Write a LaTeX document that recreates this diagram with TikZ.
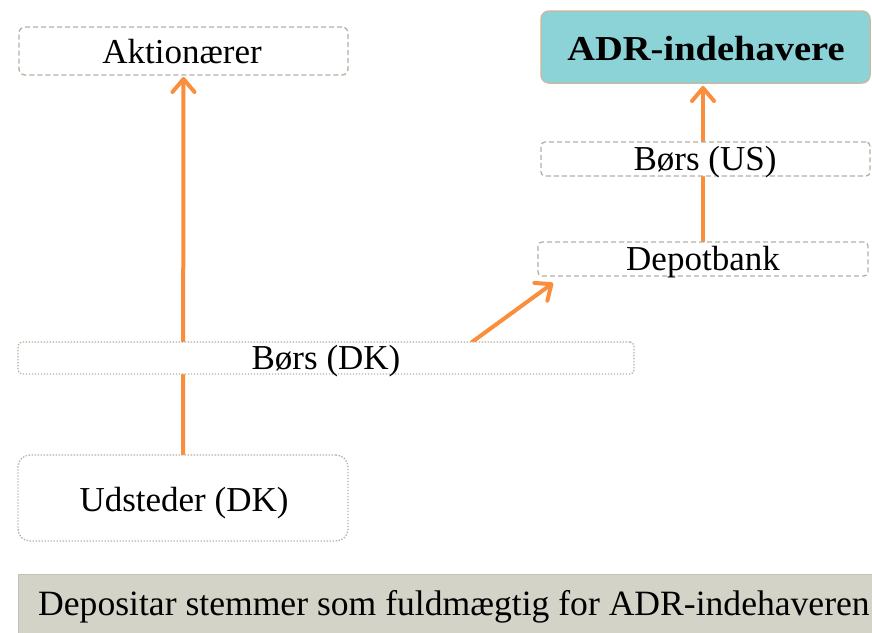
\documentclass[tikz,border=0pt]{standalone}
\usepackage{fontspec}
\setmainfont{Liberation Serif}
\usetikzlibrary{arrows.meta}
\definecolor{boxline}{HTML}{B3B1A2}
\definecolor{adrfill}{HTML}{8CD3D8}
\definecolor{adrline}{HTML}{C2BCA5}
\definecolor{flow}{HTML}{FB8E3C}
\definecolor{notefill}{HTML}{D3D3C7}
\definecolor{noteline}{HTML}{C2C1B2}
\begin{document}
\begin{tikzpicture}[x=1pt,y=-1pt,
  box/.style={draw=boxline, line width=1.3pt, fill=white, inner sep=0pt,
    outer sep=0pt, anchor=north west},
  dashbox/.style={box, dash pattern=on 5pt off 3pt},
  dotbox/.style={box, dash pattern=on 1.4pt off 1.6pt},
  lbl/.style={font=\fontsize{35}{40}\selectfont, inner sep=0pt, anchor=base},
  flowarrow/.style={draw=flow, line width=4pt, line cap=round,
    -{Straight Barb[round,length=13pt,width=22pt]}}]
\useasboundingbox (0,0) rectangle (872,632);

% placeholders so the arrows can be drawn first and hidden by the boxes
\path (18,455) node[anchor=north west, minimum width=330, minimum height=86,
  inner sep=0pt, outer sep=0pt] (udst) {};
\path (19,27) node[anchor=north west, minimum width=329, minimum height=48,
  inner sep=0pt, outer sep=0pt] (akt) {};
\path (538,242) node[anchor=north west, minimum width=330, minimum height=34,
  inner sep=0pt, outer sep=0pt] (dep) {};
\path (541,11) node[anchor=north west, minimum width=329, minimum height=72,
  inner sep=0pt, outer sep=0pt] (adr) {};
\coordinate (dkout) at (472,342);
\coordinate (depin) at (553,283);

% flows
\draw[flowarrow] (udst.north) -- ([yshift=-2pt]akt.south);
\draw[flowarrow] (dep.north) -- ([yshift=-3pt]dep.north |- adr.south);
\draw[flowarrow] (dkout) -- (depin);

% boxes
\node[dashbox, rounded corners=6pt, minimum width=329, minimum height=48]
  (aktbox) at (19,27) {};
\node[lbl] (akttxt) at (182,63) {Aktionærer};

\node[box, draw=adrline, fill=adrfill, line width=1.5pt, rounded corners=8pt,
  minimum width=329, minimum height=72] (adrbox) at (541,11) {};
\node[lbl, font=\fontsize{35}{40}\selectfont\bfseries] (adrtxt) at (706,60)
  {\scalebox{1.1}[1]{ADR-indehavere}};

\node[dashbox, rounded corners=4pt, minimum width=329, minimum height=34]
  (busbox) at (541,142) {};
\node[lbl] (bustxt) at (705,170) {Børs (US)};

\node[dashbox, rounded corners=4pt, minimum width=330, minimum height=34]
  (depbox) at (538,242) {};
\node[lbl] (deptxt) at (703,270) {Depotbank};

\node[dotbox, rounded corners=4pt, minimum width=616, minimum height=32]
  (bdkbox) at (18,342) {};
\node[lbl] (bdktxt) at (326,369) {Børs (DK)};

\node[dotbox, rounded corners=12pt, minimum width=330, minimum height=86]
  (udstbox) at (18,455) {};
\node[lbl] (udsttxt) at (184,511) {Udsteder (DK)};

% note banner along the bottom edge
\begin{scope}
  \clip (0,0) rectangle (872,632);
  \node[anchor=north west, fill=notefill, inner sep=0pt, outer sep=0pt,
    minimum width=880, minimum height=70] (note) at (18,574) {};
  \draw[noteline, line width=1pt] (note.south west) |- (note.north east);
  \node[lbl, font=\fontsize{35.6}{41}\selectfont, anchor=base west] (notetxt)
    at (38,615) {Depositar stemmer som fuldmægtig for ADR-indehaveren};
\end{scope}
\end{tikzpicture}
\end{document}
